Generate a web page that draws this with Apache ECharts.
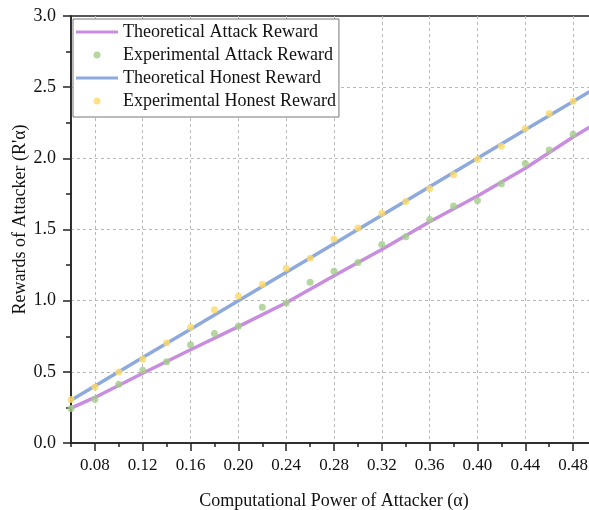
<!DOCTYPE html>
<html>
<head>
<meta charset="utf-8">
<title>Rewards of Attacker</title>
<script src="https://cdn.jsdelivr.net/npm/echarts@6/dist/echarts.min.js"></script>
<style>
  html, body { margin: 0; padding: 0; background: #fff; }
  #main { width: 589px; height: 510px; }
</style>
</head>
<body>
<div id="main"></div>
<script>
  // experimental points, one every 0.02 of alpha
  var alpha = [0.06, 0.08, 0.10, 0.12, 0.14, 0.16, 0.18, 0.20, 0.22, 0.24, 0.26,
               0.28, 0.30, 0.32, 0.34, 0.36, 0.38, 0.40, 0.42, 0.44, 0.46, 0.48];
  var expAttack = [0.242, 0.308, 0.413, 0.512, 0.570, 0.690, 0.770, 0.820, 0.953, 0.984, 1.129,
                   1.207, 1.268, 1.394, 1.449, 1.570, 1.665, 1.704, 1.822, 1.963, 2.059, 2.169];
  var expHonest = [0.306, 0.394, 0.498, 0.589, 0.704, 0.813, 0.937, 1.033, 1.115, 1.228, 1.298,
                   1.434, 1.510, 1.615, 1.697, 1.787, 1.885, 1.993, 2.085, 2.209, 2.315, 2.401];

  // theoretical curves
  var theoryAlpha  = [0.06, 0.08, 0.12, 0.16, 0.20, 0.24, 0.28, 0.32, 0.36, 0.40, 0.44, 0.48, 0.50];
  var theoryAttack = [0.245, 0.320, 0.490, 0.655, 0.818, 0.985, 1.175, 1.360, 1.555, 1.735, 1.930, 2.150, 2.250];
  var theoryHonest = [0.30, 0.40, 0.60, 0.80, 1.00, 1.20, 1.40, 1.60, 1.80, 2.00, 2.20, 2.40, 2.50];

  var names = ['Theoretical Attack Reward', 'Experimental Attack Reward',
               'Theoretical Honest Reward', 'Experimental Honest Reward'];

  var FONT = "'Liberation Serif', 'Times New Roman', serif";
  var INK = '#111';
  var AXIS = '#222';
  var purple = '#c98de0', green = '#a2cd88', blue = '#8eaadc', yellow = '#ffd966';
  var barIcon = 'path://M0,0H42V3H0Z';

  function pairs(xs, ys) {
    return xs.map(function (x, i) { return [x, ys[i]]; });
  }

  var dash = { type: [3, 3], color: '#b8b8b8', width: 1 };
  var axisLine = { show: true, onZero: false, lineStyle: { color: AXIS, width: 1.5 } };
  var tickStyle = { color: AXIS, width: 1.5 };

  var myChart = echarts.init(document.getElementById('main'));

  var option = {
    animation: false,
    backgroundColor: '#fff',
    grid: [
      { left: 71, top: 16, right: -8, bottom: 67, show: true, outerBoundsMode: 'none',
        borderColor: AXIS, borderWidth: 1.5, backgroundColor: 'transparent' },
      // second grid only carries the short minor ticks of the x axis
      { left: 71, top: 16, right: -8, bottom: 67, outerBoundsMode: 'none' }
    ],
    legend: {
      orient: 'vertical',
      left: 73,
      top: 19,
      padding: [4, 3, 7, 3],
      itemWidth: 42,
      itemHeight: 7,
      itemGap: 5,
      backgroundColor: '#fff',
      borderColor: '#777',
      borderWidth: 1,
      borderRadius: 0,
      itemStyle: { borderWidth: 0 },
      textStyle: { fontFamily: FONT, fontSize: 18, lineHeight: 18, color: INK },
      data: [
        { name: names[0], icon: barIcon },
        { name: names[1], icon: 'circle' },
        { name: names[2], icon: barIcon },
        { name: names[3], icon: 'circle' }
      ]
    },
    xAxis: [
      {
        type: 'value',
        gridIndex: 0,
        min: 0.06,
        max: 0.5,
        minInterval: 0.04,
        maxInterval: 0.04,
        splitNumber: 11,
        name: 'Computational Power of Attacker (\u03b1)',
        nameLocation: 'middle',
        nameGap: 49,
        nameMoveOverlap: false,
        nameTextStyle: { fontFamily: FONT, fontSize: 18, lineHeight: 18, color: INK },
        axisLine: axisLine,
        axisTick: { show: true, length: 8, lineStyle: tickStyle },
        axisLabel: {
          margin: 14,
          fontFamily: FONT,
          fontSize: 17,
          lineHeight: 18,
          color: INK,
          showMinLabel: false,
          showMaxLabel: false,
          formatter: function (v) {
            return Math.round(v * 100) % 4 === 0 ? v.toFixed(2) : '';
          }
        },
        splitLine: { show: true, showMinLine: false, showMaxLine: false, lineStyle: dash }
      },
      {
        type: 'value',
        gridIndex: 1,
        min: 0.06,
        max: 0.5,
        interval: 0.02,
        axisLine: { show: false },
        axisLabel: { show: false },
        axisTick: { show: true, length: 4, lineStyle: tickStyle },
        splitLine: { show: false }
      }
    ],
    yAxis: [
      {
        type: 'value',
        gridIndex: 0,
        min: 0,
        max: 3,
        interval: 0.5,
        name: "Rewards of Attacker (R'\u03b1)",
        nameLocation: 'middle',
        nameGap: 42,
        nameMoveOverlap: false,
        nameTextStyle: { fontFamily: FONT, fontSize: 18, lineHeight: 18, color: INK, padding: [0, 0, 0, 20] },
        axisLine: axisLine,
        axisTick: { show: true, length: 8, lineStyle: tickStyle },
        minorTick: { show: true, splitNumber: 2, length: 5, lineStyle: tickStyle },
        axisLabel: {
          margin: 15,
          fontFamily: FONT,
          fontSize: 18,
          color: INK,
          formatter: function (v) { return v.toFixed(1); }
        },
        splitLine: { show: true, showMinLine: false, showMaxLine: false, lineStyle: dash }
      },
      { type: 'value', gridIndex: 1, min: 0, max: 3, show: false }
    ],
    series: [
      {
        name: names[0],
        type: 'line',
        data: pairs(theoryAlpha, theoryAttack),
        symbol: 'none',
        color: purple,
        z: 2,
        lineStyle: { width: 3.5, color: purple }
      },
      {
        name: names[1],
        type: 'scatter',
        data: pairs(alpha, expAttack),
        symbolSize: 7,
        color: green,
        z: 4,
        itemStyle: { color: green }
      },
      {
        name: names[2],
        type: 'line',
        data: pairs(theoryAlpha, theoryHonest),
        symbol: 'none',
        color: blue,
        z: 3,
        lineStyle: { width: 3.5, color: blue }
      },
      {
        name: names[3],
        type: 'scatter',
        data: pairs(alpha, expHonest),
        symbolSize: 7,
        color: yellow,
        z: 4,
        itemStyle: { color: yellow }
      }
    ]
  };

  myChart.setOption(option);
</script>
</body>
</html>
